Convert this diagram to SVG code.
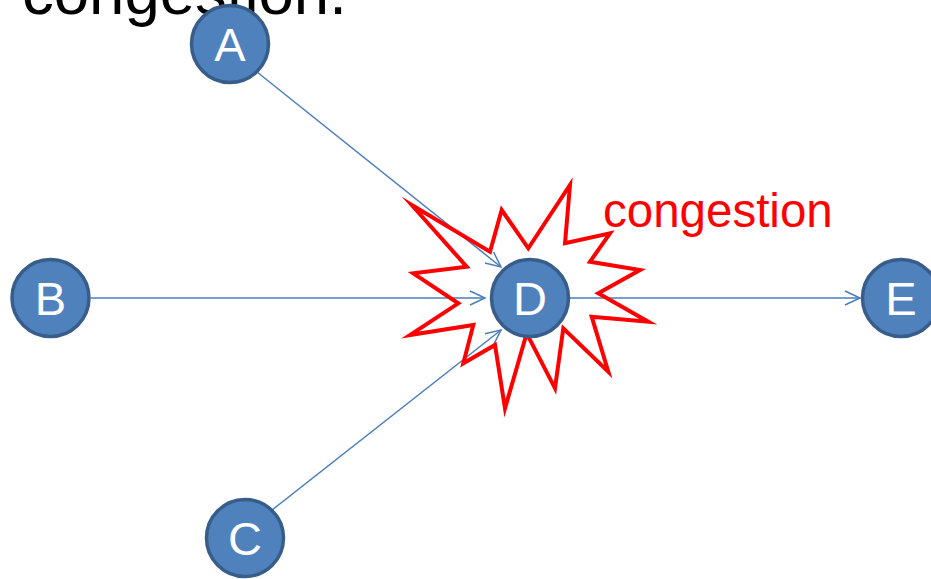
<svg xmlns="http://www.w3.org/2000/svg" width="931" height="579" viewBox="0 0 931 579">
<style>
.node circle{fill:#4F81BD;stroke:#385D8A;stroke-width:3.5}
.node text{fill:#ffffff;font-family:"Liberation Sans",Arial,sans-serif;font-size:47px;text-anchor:middle}
.edge{stroke:#4A7EBB;stroke-width:1.5;fill:none;marker-end:url(#arr)}
</style>
<defs>
<marker id="arr" markerUnits="userSpaceOnUse" markerWidth="20" markerHeight="20" viewBox="-17 -10 20 20" refX="0" refY="0" orient="auto">
<path d="M-15,-7 L0,0 L-15,7" fill="none" stroke="#4A7EBB" stroke-width="1.5"/>
</marker>
</defs>
<rect width="931" height="579" fill="#ffffff"/>
<text x="22" y="14" font-family="Liberation Sans,Arial,sans-serif" font-size="63.5" fill="#000000">congestion.</text>
<g id="connectors">
<line class="edge" x1="257" y1="72" x2="501" y2="267"/>
<line class="edge" x1="91" y1="298" x2="485" y2="298"/>
<line class="edge" x1="272" y1="510" x2="501" y2="330"/>
<line class="edge" x1="570" y1="298" x2="860" y2="298"/>
</g>
<g id="burst">
<polygon points="411.7,205 490,251.7 501.7,210 528.3,248.3 570,185 565,243.3 610,233.3 590,261.7 640,270 598.3,293.3 648.3,321.7 591.7,316.7 608.3,371.7 563.3,328.3 555,388.3 526.7,333.3 505,408.3 495,345 463.3,363.3 473.3,325 410,335 458.3,303.3 413.3,273.3 466.7,266.7" fill="none" stroke="#FF0000" stroke-width="4" stroke-linejoin="miter" stroke-miterlimit="10"/>
<text x="603" y="227" font-family="Liberation Sans,Arial,sans-serif" font-size="47.5" fill="#FF0000">congestion</text>
</g>
<g id="A" class="node"><circle cx="230" cy="44" r="38.5"/><text x="230" y="61">A</text></g>
<g id="B" class="node"><circle cx="50.5" cy="298" r="38.5"/><text x="50.5" y="315">B</text></g>
<g id="C" class="node"><circle cx="245" cy="538" r="38.5"/><text x="245" y="555">C</text></g>
<g id="D" class="node"><circle cx="530" cy="298" r="38.5"/><text x="530" y="315">D</text></g>
<g id="E" class="node"><circle cx="901" cy="298" r="38.5"/><text x="901" y="315">E</text></g>
</svg>
